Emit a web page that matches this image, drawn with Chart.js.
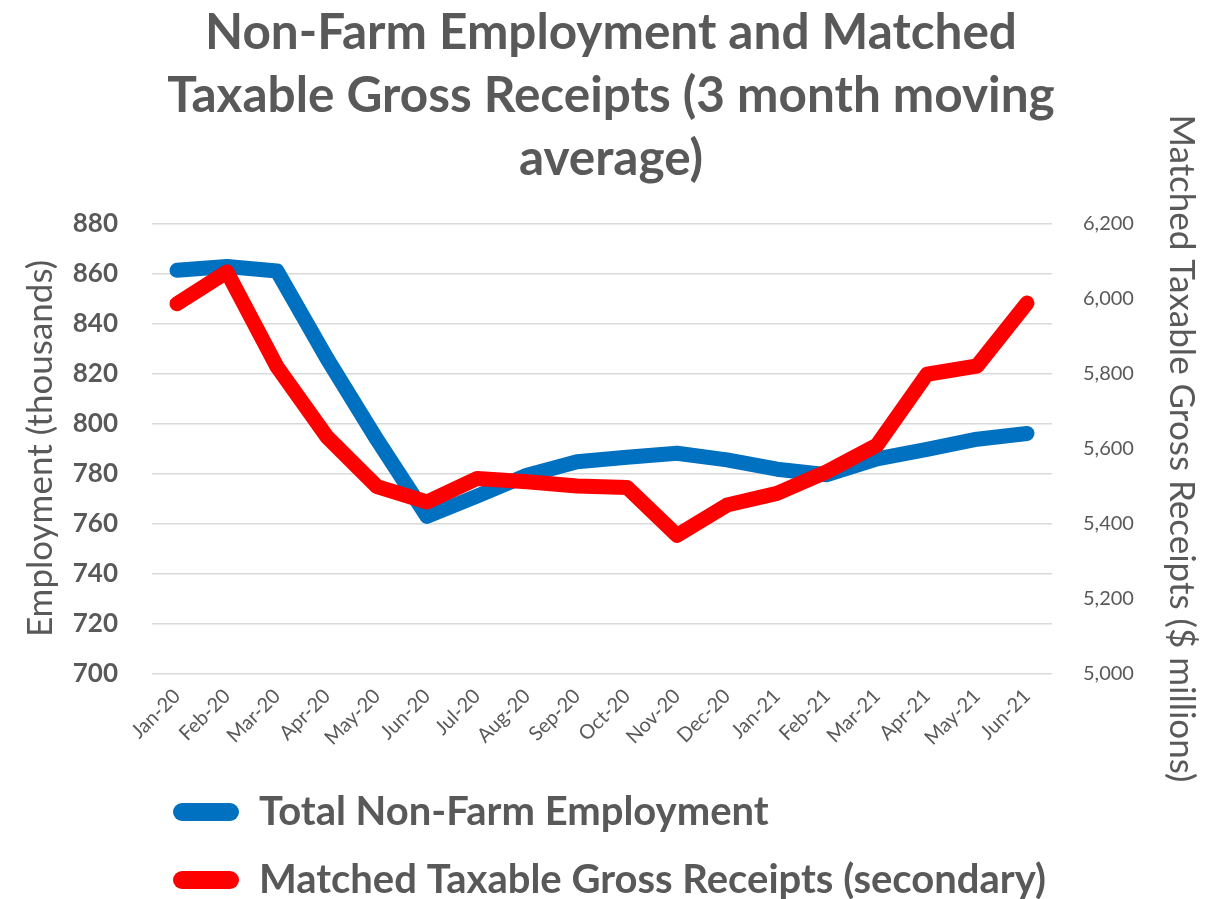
<!DOCTYPE html>
<html>
<head>
<meta charset="utf-8">
<script src="https://cdn.jsdelivr.net/npm/chart.js@4"></script>
<style>
  body { margin: 0; background: #fff; }
  #wrap { width: 1216px; height: 899px; }
</style>
</head>
<body>
<div id="wrap"><canvas id="chart"></canvas></div>
<script>
// data
const months = ['Jan-20', 'Feb-20', 'Mar-20', 'Apr-20', 'May-20', 'Jun-20', 'Jul-20', 'Aug-20', 'Sep-20',
  'Oct-20', 'Nov-20', 'Dec-20', 'Jan-21', 'Feb-21', 'Mar-21', 'Apr-21', 'May-21', 'Jun-21'];
const employment = [861.3, 862.8, 861.0, 826, 793.5, 762.8, 770.9, 779.3, 784.7,
  786.5, 788.1, 785.4, 781.7, 779.5, 785.8, 789.6, 793.7, 796.0];
const receipts = [5986, 6071, 5818, 5631, 5498, 5457, 5520, 5511, 5500,
  5496, 5368, 5449, 5480, 5538, 5609, 5798, 5820, 5988];

const grey = '#595959';
const FONT = 'Lato, "Open Sans", sans-serif';

// legend sits left-aligned like the original, a bit lower
const legendShift = {
  id: 'legendShift',
  afterLayout(chart) {
    const lg = chart.legend;
    lg.left = 145;
    lg.top += 11;
    lg.bottom += 11;
  }
};

new Chart(document.getElementById('chart').getContext('2d'), {
  type: 'line',
  data: {
    labels: months,
    datasets: [
      {
        label: 'Total Non-Farm Employment',
        data: employment,
        yAxisID: 'y',
        borderColor: '#0070C0',
        backgroundColor: '#0070C0',
        borderWidth: 15,
        borderCapStyle: 'round',
        borderJoinStyle: 'round',
        pointRadius: 0,
        order: 1
      },
      {
        label: 'Matched Taxable Gross Receipts (secondary)',
        data: receipts,
        yAxisID: 'y2',
        borderColor: '#FF0000',
        backgroundColor: '#FF0000',
        borderWidth: 15,
        borderCapStyle: 'round',
        borderJoinStyle: 'round',
        pointRadius: 0,
        order: 0
      }
    ]
  },
  options: {
    responsive: true,
    maintainAspectRatio: false,
    animation: false,
    layout: { padding: { left: 20, right: 14, top: 0, bottom: 0 } },
    plugins: {
      title: {
        display: true,
        text: ['Non-Farm Employment and Matched', 'Taxable Gross Receipts (3 month moving', 'average)'],
        color: grey,
        font: { family: FONT, size: 49.5, weight: 'bold', lineHeight: 1.27 },
        padding: { top: 2, bottom: 33 }
      },
      legend: {
        position: 'bottom',
        align: 'start',
        labels: {
          color: grey,
          font: { family: FONT, size: 40, weight: 'bold' },
          boxWidth: 66,
          boxHeight: 18,
          padding: 28,
          useBorderRadius: true,
          borderRadius: 9,
          sort: (a, b) => a.datasetIndex - b.datasetIndex,
          generateLabels(chart) {
            return Chart.defaults.plugins.legend.labels.generateLabels(chart).map(l => {
              const ds = chart.data.datasets[l.datasetIndex];
              l.fillStyle = ds.borderColor;
              l.strokeStyle = 'transparent';
              l.lineWidth = 0;
              l.borderRadius = 9;
              return l;
            });
          }
        }
      },
      tooltip: { enabled: false }
    },
    scales: {
      x: {
        offset: true,
        grid: { display: false },
        border: { display: false },
        ticks: {
          color: grey,
          font: { family: FONT, size: 20 },
          maxRotation: 45,
          minRotation: 45,
          padding: 3
        }
      },
      y: {
        position: 'left',
        min: 700,
        max: 880,
        afterFit: s => { s.width = 132; },
        ticks: {
          stepSize: 20,
          color: grey,
          font: { family: FONT, size: 26, weight: 'bold' },
          padding: 34
        },
        grid: { color: '#d9d9d9', lineWidth: 1.5, drawTicks: false },
        border: { display: false },
        title: {
          display: true,
          text: 'Employment (thousands)',
          color: grey,
          font: { family: FONT, size: 35 },
          padding: { top: 0, bottom: 10 }
        }
      },
      y2: {
        position: 'right',
        min: 5000,
        max: 6200,
        afterFit: s => { s.width = 150; },
        ticks: {
          stepSize: 200,
          color: grey,
          font: { family: FONT, size: 20 },
          padding: 31,
          callback: v => v.toLocaleString('en-US')
        },
        grid: { display: false, drawTicks: false },
        border: { display: false },
        title: {
          display: true,
          text: 'Matched Taxable Gross Receipts ($ millions)',
          color: grey,
          font: { family: FONT, size: 35 },
          padding: { top: 0, bottom: 20 }
        }
      }
    }
  },
  plugins: [legendShift]
});
</script>
</body>
</html>
